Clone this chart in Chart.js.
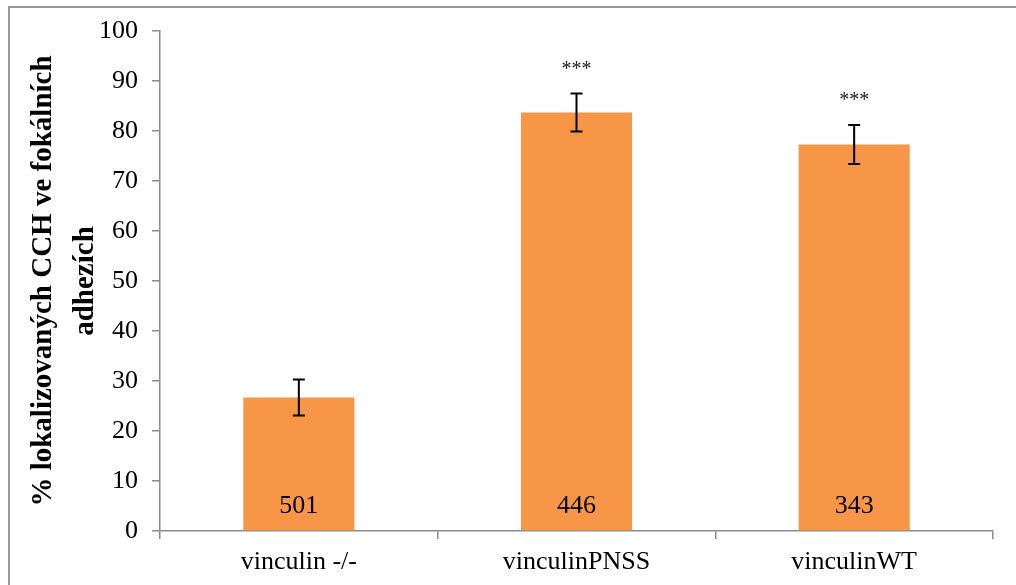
<!DOCTYPE html>
<html>
<head>
<meta charset="utf-8">
<script src="https://cdn.jsdelivr.net/npm/chart.js@4.4.1/dist/chart.umd.min.js"></script>
<style>
  html, body { margin: 0; padding: 0; background: #fff; overflow: hidden; }
  #wrap { position: relative; width: 1016px; height: 585px; }
  #frame { position: absolute; left: 8px; top: 6px; width: 1100px; height: 700px;
           border-left: 2px solid #9a9a9a; border-top: 2px solid #9a9a9a; box-sizing: border-box; }
  canvas { position: absolute; left: 0; top: 0; }
</style>
</head>
<body>
<div id="wrap">
  <div id="frame"></div>
  <canvas id="c" width="1016" height="585"></canvas>
</div>
<script>
// Share of CCH localised in focal adhesions, per cell line
const categories = ['vinculin -/-', 'vinculinPNSS', 'vinculinWT'];
const percentLocalized = [26.7, 83.7, 77.3];
const errorValues = [3.6, 3.8, 3.9];
const cellCounts = ['501', '446', '343'];
const significance = ['', '***', '***'];
const yTicks = [0, 10, 20, 30, 40, 50, 60, 70, 80, 90, 100];
const yTitleLines = ['% lokalizovaných CCH ve fokálních', 'adhezích'];

const SERIF = '"Liberation Serif", "Times New Roman", serif';

// error bars, stars above them and counts inside the bars
const annotations = {
  id: 'annotations',
  afterDatasetsDraw(chart) {
    const ctx = chart.ctx;
    const meta = chart.getDatasetMeta(0);
    const y = chart.scales.y;
    ctx.save();
    meta.data.forEach((bar, i) => {
      const v = percentLocalized[i];
      const e = errorValues[i];
      const x = bar.x;
      const yTop = y.getPixelForValue(v + e);
      const yBot = y.getPixelForValue(v - e);
      ctx.strokeStyle = '#000';
      ctx.lineWidth = 2;
      ctx.beginPath();
      ctx.moveTo(x, yTop); ctx.lineTo(x, yBot);
      ctx.moveTo(x - 6, yTop); ctx.lineTo(x + 6, yTop);
      ctx.moveTo(x - 6, yBot); ctx.lineTo(x + 6, yBot);
      ctx.stroke();

      if (significance[i]) {
        ctx.fillStyle = '#222';
        ctx.font = '20px ' + SERIF;
        ctx.textAlign = 'center';
        ctx.textBaseline = 'middle';
        ctx.fillText(significance[i], x, yTop - 24);
      }

      ctx.fillStyle = '#000';
      ctx.font = '26px ' + SERIF;
      ctx.textAlign = 'center';
      ctx.textBaseline = 'middle';
      ctx.fillText(cellCounts[i], x, y.getPixelForValue(0) - 25);
    });
    ctx.restore();
  }
};

// two-line rotated title for the value axis
const yTitle = {
  id: 'yTitle',
  afterDraw(chart) {
    const ctx = chart.ctx;
    const area = chart.chartArea;
    const cy = 281;
    ctx.save();
    ctx.fillStyle = '#000';
    ctx.font = 'bold 29px ' + SERIF;
    ctx.textAlign = 'center';
    ctx.textBaseline = 'middle';
    const xs = [44, 86];
    yTitleLines.forEach((line, i) => {
      ctx.save();
      ctx.translate(xs[i], cy);
      ctx.rotate(-Math.PI / 2);
      ctx.fillText(line, 0, 0);
      ctx.restore();
    });
    ctx.restore();
  }
};

new Chart(document.getElementById('c'), {
  type: 'bar',
  data: {
    labels: categories,
    datasets: [{
      data: percentLocalized,
      backgroundColor: '#F79646',
      borderWidth: 0,
      categoryPercentage: 0.4,
      barPercentage: 1.0
    }]
  },
  options: {
    responsive: false,
    animation: false,
    devicePixelRatio: 1,
    layout: { padding: { top: 31, right: 23, left: 0, bottom: 0 } },
    plugins: { legend: { display: false }, tooltip: { enabled: false } },
    scales: {
      y: {
        min: 0, max: 100,
        afterFit(scale) { scale.width = 160; },
        afterBuildTicks(scale) { scale.ticks = yTicks.map(v => ({ value: v })); },
        border: { display: true, color: '#8c8c8c', width: 1.5 },
        grid: { drawOnChartArea: false, drawTicks: true, tickLength: 8, color: '#8c8c8c', lineWidth: 1.5 },
        ticks: { color: '#000', font: { family: SERIF, size: 26 }, padding: 14 }
      },
      x: {
        afterFit(scale) { scale.height = 54; },
        border: { display: true, color: '#8c8c8c', width: 1.5 },
        grid: { offset: true, drawOnChartArea: false, drawTicks: true, tickLength: 8, color: '#8c8c8c', lineWidth: 1.5 },
        ticks: { color: '#000', font: { family: SERIF, size: 26 }, padding: 8, maxRotation: 0 }
      }
    }
  },
  plugins: [annotations, yTitle]
});
</script>
</body>
</html>
